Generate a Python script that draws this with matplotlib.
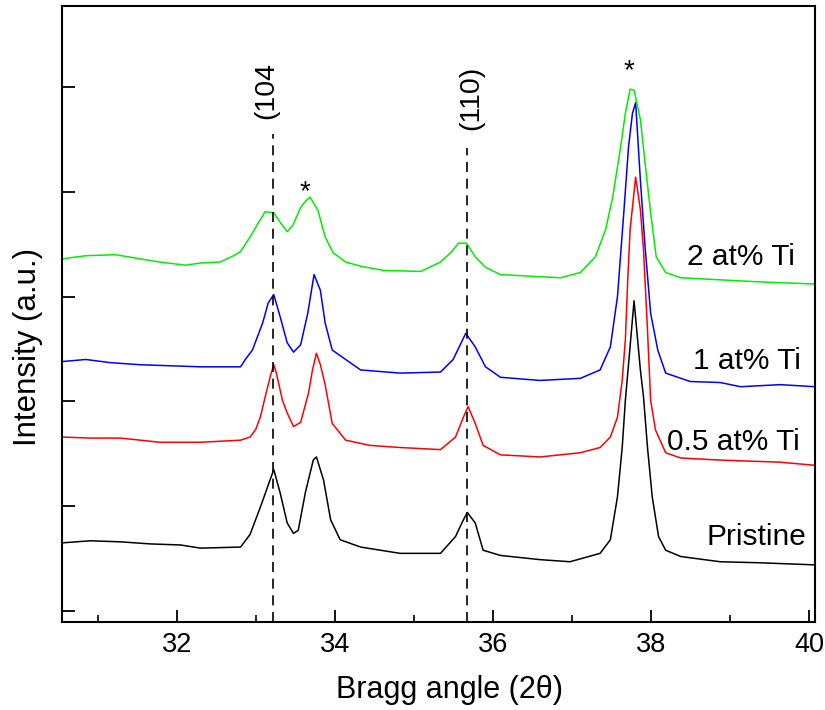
import matplotlib
matplotlib.use("Agg")
import matplotlib.pyplot as plt
from matplotlib.ticker import MultipleLocator

plt.rcParams['font.family'] = ['Liberation Sans', 'DejaVu Sans']

# XRD patterns (2theta in degrees, intensity in a.u., offset stacked)
pristine_x = [30.54, 30.90, 31.28, 31.66, 32.04, 32.29, 32.80, 32.92, 33.05, 33.14, 33.22,
              33.30, 33.39, 33.47, 33.53, 33.62, 33.72, 33.76, 33.85, 33.94, 34.06, 34.32,
              34.82, 35.33, 35.52, 35.62, 35.67, 35.77, 35.87, 36.09, 36.59, 36.97, 37.35,
              37.48, 37.57, 37.63, 37.67, 37.72, 37.78, 37.86, 37.90, 37.95, 38.01, 38.09,
              38.18, 38.37, 38.87, 39.38, 40.07]
pristine_y = [0.65, 0.67, 0.66, 0.64, 0.63, 0.60, 0.61, 0.73, 0.99, 1.18, 1.35,
              1.13, 0.84, 0.74, 0.77, 1.13, 1.44, 1.47, 1.25, 0.87, 0.68, 0.61,
              0.55, 0.55, 0.71, 0.87, 0.94, 0.84, 0.58, 0.53, 0.49, 0.47, 0.55,
              0.68, 1.09, 1.56, 2.01, 2.44, 2.96, 2.30, 2.04, 1.56, 1.09, 0.71,
              0.58, 0.52, 0.47, 0.46, 0.44]

ti05_x = [30.54, 30.90, 31.28, 31.78, 32.29, 32.80, 32.92, 32.99, 33.05, 33.11, 33.18,
          33.22, 33.25, 33.33, 33.39, 33.47, 33.56, 33.66, 33.71, 33.76, 33.81, 33.87,
          33.96, 34.13, 34.44, 34.82, 35.33, 35.52, 35.62, 35.68, 35.77, 35.87, 36.09,
          36.59, 37.10, 37.35, 37.48, 37.57, 37.63, 37.67, 37.70, 37.73, 37.80, 37.86,
          37.90, 37.95, 37.99, 38.05, 38.18, 38.37, 38.87, 39.63, 40.07]
ti05_y = [1.66, 1.65, 1.65, 1.61, 1.61, 1.63, 1.66, 1.73, 1.85, 2.04, 2.25,
          2.35, 2.28, 2.01, 1.89, 1.76, 1.80, 2.08, 2.30, 2.46, 2.35, 2.16,
          1.79, 1.63, 1.58, 1.56, 1.54, 1.66, 1.85, 1.95, 1.79, 1.58, 1.49,
          1.47, 1.51, 1.56, 1.66, 1.85, 2.20, 2.59, 3.16, 3.64, 4.14, 3.83,
          3.44, 2.68, 2.01, 1.73, 1.51, 1.46, 1.44, 1.42, 1.39]

ti1_x = [30.54, 30.84, 31.15, 31.53, 31.91, 32.29, 32.80, 32.86, 32.95, 33.08, 33.15,
         33.22, 33.30, 33.39, 33.47, 33.56, 33.65, 33.73, 33.81, 33.87, 33.96, 34.13,
         34.32, 34.82, 35.33, 35.49, 35.65, 35.77, 35.90, 36.09, 36.59, 37.10, 37.35,
         37.48, 37.57, 37.65, 37.71, 37.76, 37.80, 37.86, 37.92, 37.99, 38.08, 38.18,
         38.49, 38.87, 39.13, 39.63, 40.07]
ti1_y = [2.38, 2.40, 2.37, 2.35, 2.34, 2.33, 2.33, 2.40, 2.49, 2.75, 2.94,
         3.02, 2.81, 2.56, 2.47, 2.54, 2.84, 3.21, 3.06, 2.75, 2.49, 2.40,
         2.30, 2.27, 2.28, 2.40, 2.65, 2.52, 2.33, 2.23, 2.20, 2.22, 2.30,
         2.52, 3.00, 3.80, 4.43, 4.75, 4.85, 4.11, 3.47, 2.84, 2.49, 2.27,
         2.19, 2.18, 2.14, 2.16, 2.14]

ti2_x = [30.54, 30.84, 31.22, 31.53, 31.78, 32.10, 32.29, 32.54, 32.71, 32.80, 32.92,
         33.03, 33.11, 33.22, 33.30, 33.39, 33.46, 33.56, 33.62, 33.68, 33.78, 33.87,
         33.97, 34.13, 34.32, 34.61, 35.08, 35.33, 35.46, 35.56, 35.66, 35.77, 35.90,
         36.09, 36.59, 36.85, 37.10, 37.29, 37.42, 37.51, 37.61, 37.67, 37.73, 37.78,
         37.86, 37.92, 37.99, 38.06, 38.18, 38.37, 38.87, 39.38, 40.07]
ti2_y = [3.36, 3.39, 3.40, 3.36, 3.33, 3.30, 3.32, 3.33, 3.39, 3.43, 3.57,
         3.71, 3.81, 3.80, 3.71, 3.62, 3.68, 3.85, 3.91, 3.95, 3.82, 3.57,
         3.42, 3.33, 3.29, 3.25, 3.24, 3.33, 3.42, 3.51, 3.51, 3.38, 3.28,
         3.21, 3.19, 3.18, 3.23, 3.38, 3.64, 3.95, 4.43, 4.75, 4.98, 4.97,
         4.69, 4.27, 3.80, 3.38, 3.23, 3.18, 3.16, 3.14, 3.12]

series_labels = ['Pristine', '0.5 at% Ti', '1 at% Ti', '2 at% Ti']
series_colors = ['black', '#ff0000', '#0000ff', '#00ee00']
label_pos = [(39.96, 0.71), (39.88, 1.61), (39.89, 2.39), (39.82, 3.38)]

reflections = ['(104', '(110)']
reflection_x = [33.215, 35.667]
reflection_top = [4.55, 4.42]
reflection_text = [(33.12, 4.97), (35.72, 4.90)]
star_pos = [(33.62, 4.00), (37.72, 5.15)]

fig = plt.figure(figsize=(8.25, 7.1), dpi=100)
ax = fig.add_axes([62 / 825, 1 - 622 / 710, (815 - 62) / 825, (622 - 6) / 710])

xs = [pristine_x, ti05_x, ti1_x, ti2_x]
ys = [pristine_y, ti05_y, ti1_y, ti2_y]
for x, y, c, lab, pos in zip(xs, ys, series_colors, series_labels, label_pos):
    ax.plot(x, y, color=c, lw=1.1)
    ax.text(pos[0], pos[1], lab, ha='right', va='center', fontsize=21.5)

ymin, ymax = -0.105, 5.773
for xr, top, name, tp in zip(reflection_x, reflection_top, reflections, reflection_text):
    ax.plot([xr, xr], [ymin, top], color='black', lw=1.2, ls=(0, (6, 4)))
    ax.text(tp[0], tp[1], name, rotation=90, ha='center', va='center', fontsize=20.5)

for sx, sy in star_pos:
    ax.text(sx, sy, '*', ha='center', va='center', fontsize=20)

ax.set_xlim(30.54, 40.07)
ax.set_ylim(ymin, ymax)
ax.xaxis.set_major_locator(MultipleLocator(2))
ax.xaxis.set_minor_locator(MultipleLocator(1))
ax.yaxis.set_major_locator(MultipleLocator(1))
ax.tick_params(axis='both', which='major', direction='in', length=9, width=1.3,
               labelsize=19.5, pad=7)
ax.tick_params(axis='x', which='minor', direction='in', length=5, width=1.2)
ax.tick_params(axis='y', labelleft=False)
for s in ax.spines.values():
    s.set_linewidth(1.5)

fig.text(450 / 825, 1 - 690 / 710, 'Bragg angle (2θ)', ha='center', va='center', fontsize=22)
fig.text(28 / 825, 1 - 347 / 710, 'Intensity (a.u.)', rotation=90, ha='center', va='center',
         fontsize=22.5)

fig.savefig('out.png', dpi=100, facecolor='white')
